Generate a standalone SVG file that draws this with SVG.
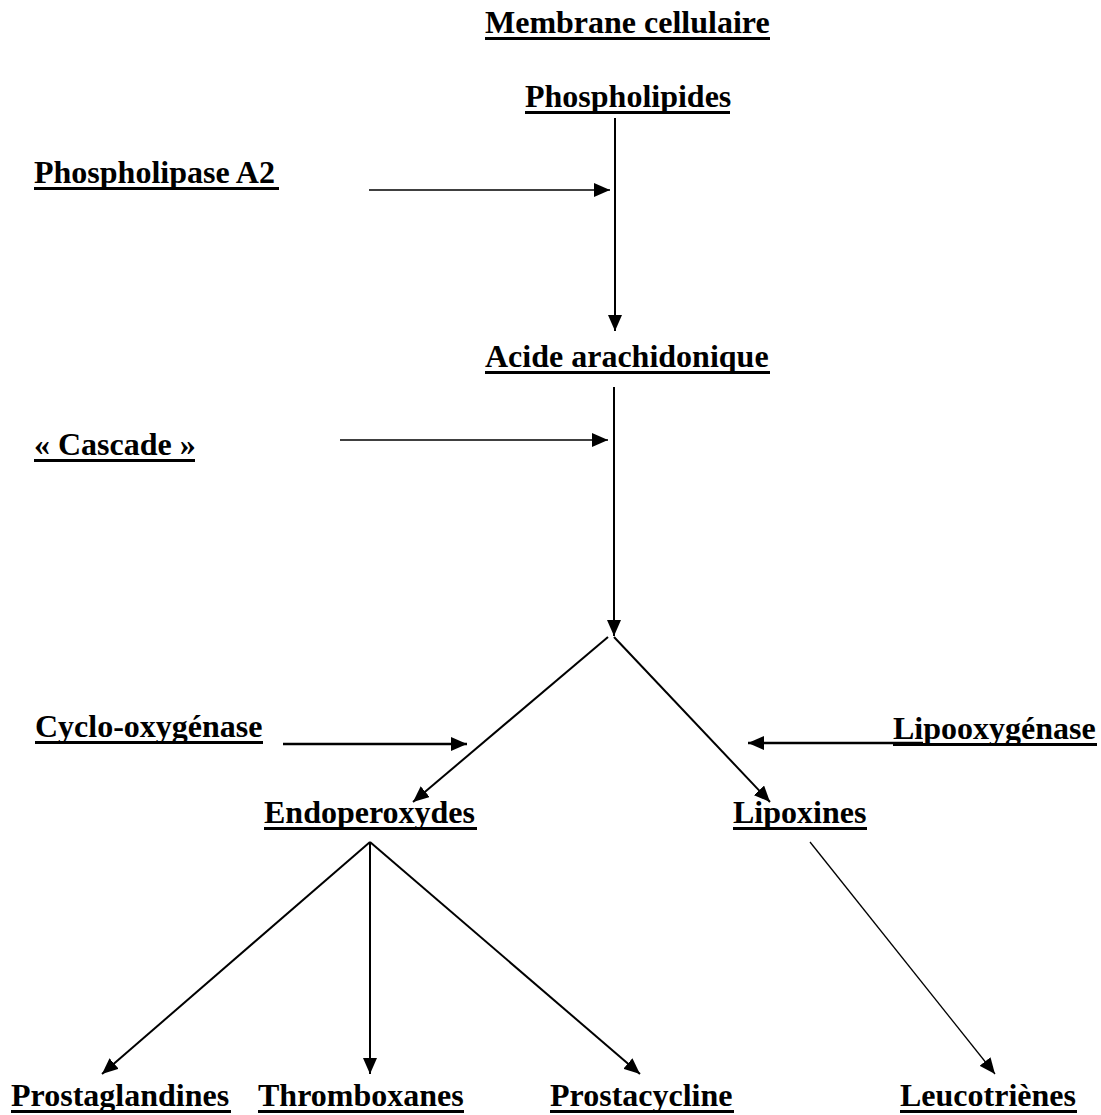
<svg xmlns="http://www.w3.org/2000/svg" width="1101" height="1115" viewBox="0 0 1101 1115">
<style>
text{font-family:"Liberation Serif","Times New Roman",serif;font-weight:bold;font-size:32px;fill:#000}
.ul{stroke:#000;stroke-width:3}
.c{stroke:#000;fill:none}
</style>
<defs>
<marker id="ah" markerUnits="userSpaceOnUse" markerWidth="16" markerHeight="14" refX="16" refY="7" orient="auto" viewBox="0 0 16 14">
<path d="M0,0 L16,7 L0,14 z" fill="#000"/>
</marker>
</defs>
<rect width="1101" height="1115" fill="#fff"/>
<g id="membrane"><text x="485" y="33">Membrane cellulaire</text><line class="ul" x1="485" y1="38.5" x2="770" y2="38.5"/></g>
<g id="phospholipides"><text x="525" y="107">Phospholipides</text><line class="ul" x1="525" y1="112.5" x2="730" y2="112.5"/></g>
<g id="phospholipase"><text x="34" y="183">Phospholipase A2</text><line class="ul" x1="34" y1="188.5" x2="279" y2="188.5"/></g>
<g id="acide"><text x="485" y="367">Acide arachidonique</text><line class="ul" x1="485" y1="372.5" x2="770" y2="372.5"/></g>
<g id="cascade"><text x="34" y="455">« Cascade »</text><line class="ul" x1="34" y1="460.5" x2="195" y2="460.5"/></g>
<g id="cyclo"><text x="35" y="737">Cyclo-oxygénase</text><line class="ul" x1="35" y1="742.5" x2="263" y2="742.5"/></g>
<g id="lipooxygenase"><text x="893" y="739">Lipooxygénase</text><line class="ul" x1="893" y1="744.5" x2="1097" y2="744.5"/></g>
<g id="endoperoxydes"><text x="264" y="823">Endoperoxydes</text><line class="ul" x1="264" y1="828.5" x2="477" y2="828.5"/></g>
<g id="lipoxines"><text x="733" y="823">Lipoxines</text><line class="ul" x1="733" y1="828.5" x2="867" y2="828.5"/></g>
<g id="prostaglandines"><text x="11" y="1106">Prostaglandines</text><line class="ul" x1="11" y1="1111.5" x2="231" y2="1111.5"/></g>
<g id="thromboxanes"><text x="258" y="1106">Thromboxanes</text><line class="ul" x1="258" y1="1111.5" x2="464" y2="1111.5"/></g>
<g id="prostacycline"><text x="550" y="1106">Prostacycline</text><line class="ul" x1="550" y1="1111.5" x2="734" y2="1111.5"/></g>
<g id="leucotrienes"><text x="900" y="1106">Leucotriènes</text><line class="ul" x1="900" y1="1111.5" x2="1077" y2="1111.5"/></g>
<g id="connectors">
<line class="c" x1="615" y1="118" x2="615" y2="331" stroke-width="2" marker-end="url(#ah)"/>
<line class="c" x1="369" y1="190" x2="610" y2="190" stroke-width="1.4" marker-end="url(#ah)"/>
<line class="c" x1="614" y1="387" x2="614" y2="636" stroke-width="2" marker-end="url(#ah)"/>
<line class="c" x1="340" y1="440" x2="608" y2="440" stroke-width="1.4" marker-end="url(#ah)"/>
<line class="c" x1="608" y1="637" x2="413" y2="802" stroke-width="2" marker-end="url(#ah)"/>
<line class="c" x1="614" y1="637" x2="770" y2="802" stroke-width="2" marker-end="url(#ah)"/>
<line class="c" x1="283" y1="744" x2="467" y2="744" stroke-width="2.5" marker-end="url(#ah)"/>
<line class="c" x1="923" y1="743" x2="748" y2="743" stroke-width="2.5" marker-end="url(#ah)"/>
<line class="c" x1="370" y1="842" x2="102" y2="1074" stroke-width="2" marker-end="url(#ah)"/>
<line class="c" x1="370" y1="842" x2="370" y2="1074" stroke-width="2" marker-end="url(#ah)"/>
<line class="c" x1="370" y1="842" x2="640" y2="1074" stroke-width="2" marker-end="url(#ah)"/>
<line class="c" x1="810" y1="842" x2="995" y2="1074" stroke-width="1.3" marker-end="url(#ah)"/>
</g>
</svg>
